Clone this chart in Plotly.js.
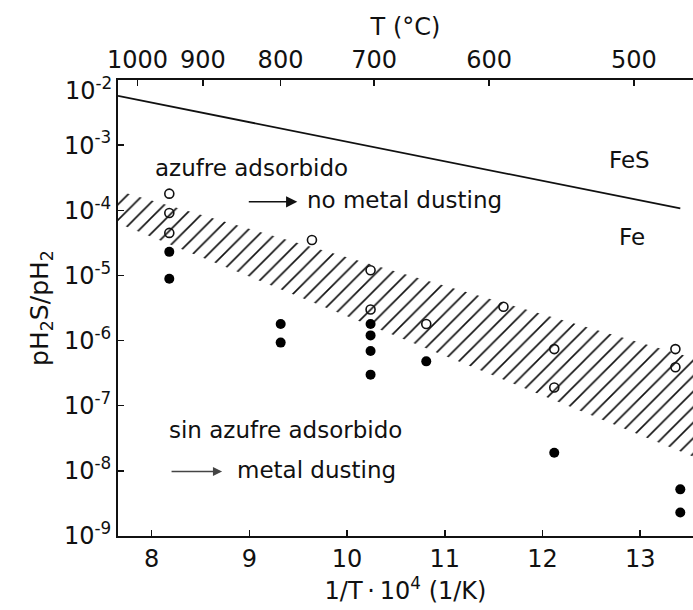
<!DOCTYPE html>
<html>
<head>
<meta charset="utf-8">
<script src="https://cdn.plot.ly/plotly-3.0.1.min.js"></script>
<style>html,body{margin:0;padding:0;background:#fff;}#chart{width:693px;height:610px;}</style>
</head>
<body>
<div id="chart"></div>
<script>
// ---- data ----
const xRange = [7.655, 13.54];
const yTickVals = [1e-9, 1e-8, 1e-7, 1e-6, 1e-5, 1e-4, 1e-3, 1e-2];
const yTickText = ['10<sup>-9</sup>','10<sup>-8</sup>','10<sup>-7</sup>','10<sup>-6</sup>','10<sup>-5</sup>','10<sup>-4</sup>','10<sup>-3</sup>','10<sup>-2</sup>'];
const xTickVals = [8, 9, 10, 11, 12, 13];
const topTempC = [1000, 900, 800, 700, 600, 500];

// FeS / Fe equilibrium line
const lineX = [7.655, 13.41];
const lineY = [5.7e-3, 1.07e-4];

// hatched transition band
const bandX = [7.655, 13.54];
const bandUpper = [2.0e-4, 5.4e-7];
const bandLower = [6.3e-5, 1.66e-8];

// open circles (adsorbed sulfur, no metal dusting)
const openX = [8.18, 8.18, 8.18, 9.64, 10.24, 10.24, 10.81, 11.6, 12.12, 12.12, 13.36, 13.36];
const openY = [1.8e-4, 9.1e-5, 4.5e-5, 3.5e-5, 1.2e-5, 3.0e-6, 1.8e-6, 3.3e-6, 7.4e-7, 1.9e-7, 7.4e-7, 3.9e-7];

// filled circles (no adsorbed sulfur, metal dusting)
const filledX = [8.18, 8.18, 9.32, 9.32, 10.24, 10.24, 10.24, 10.24, 10.81, 12.12, 13.41, 13.41];
const filledY = [2.3e-5, 8.9e-6, 1.8e-6, 9.3e-7, 1.8e-6, 1.2e-6, 6.9e-7, 3.0e-7, 4.8e-7, 1.9e-8, 5.2e-9, 2.3e-9];

// ---- chart ----
const FONT = 'DejaVu Sans, Liberation Sans, Arial, sans-serif';
const topTickVals = topTempC.map(t => 1e4 / (t + 273.15));
const topTickText = topTempC.map(t => String(t));
// the top y label (10^-2) is drawn lower than its tick, as in the reference
const lastIdx = yTickVals.length - 1;
const yTickTextAxis = yTickText.map((t, i) => i === lastIdx ? '' : t);

const traces = [
  {x: bandX, y: bandLower, mode: 'lines', line: {width: 0, color: 'rgba(0,0,0,0)'}, showlegend: false, hoverinfo: 'skip'},
  {x: bandX, y: bandUpper, mode: 'lines', line: {width: 0, color: 'rgba(0,0,0,0)'}, fill: 'tonexty',
   fillcolor: 'rgba(255,255,255,0)',
   fillpattern: {shape: '/', size: 11, solidity: 0.15, fgcolor: '#111', bgcolor: 'rgba(255,255,255,0)'},
   showlegend: false, hoverinfo: 'skip'},
  {x: lineX, y: lineY, mode: 'lines', line: {color: '#111', width: 1.8}, showlegend: false},
  {x: openX, y: openY, mode: 'markers', marker: {symbol: 'circle-open', size: 9, color: '#111', line: {width: 1.6, color: '#111'}}, showlegend: false},
  {x: filledX, y: filledY, mode: 'markers', marker: {symbol: 'circle', size: 10, color: '#000'}, showlegend: false},
  {x: [], y: [], xaxis: 'x2', yaxis: 'y', mode: 'markers', showlegend: false, hoverinfo: 'skip'}
];

function txt(text, x, ylog) {
  return {text: text, x: x, y: ylog, xref: 'x', yref: 'y', xanchor: 'left', yanchor: 'middle',
          showarrow: false, font: {family: FONT, size: 23, color: '#111'}};
}
function arrow(x, ylog, ax, color, width) {
  return {text: '', x: x, y: ylog, xref: 'x', yref: 'y', showarrow: true, ax: ax, ay: 0,
          arrowhead: 2, arrowsize: 1.4, arrowwidth: width, arrowcolor: color};
}

const layout = {
  width: 693, height: 610,
  margin: {l: 118, r: 0, t: 80, b: 74},
  paper_bgcolor: '#fff', plot_bgcolor: '#fff',
  font: {family: FONT, size: 24, color: '#111'},
  showlegend: false,
  xaxis: {
    range: xRange, tickvals: xTickVals, ticktext: xTickVals.map(String),
    ticks: 'inside', ticklen: 6, tickwidth: 1.5, tickcolor: '#111',
    showline: true, linecolor: '#111', linewidth: 2, showgrid: false, zeroline: false,
    tickfont: {family: FONT, size: 24, color: '#111'},
    title: {text: '1/T\u2009·\u200910<sup>4</sup> (1/K)', font: {family: FONT, size: 24, color: '#111'}, standoff: 10}
  },
  xaxis2: {
    overlaying: 'x', side: 'top', range: xRange, tickvals: topTickVals, ticktext: topTickText,
    ticks: 'inside', ticklen: 6, tickwidth: 1.5, tickcolor: '#111',
    showline: true, linecolor: '#111', linewidth: 2, showgrid: false, zeroline: false,
    tickfont: {family: FONT, size: 24, color: '#111'},
    title: {text: 'T (°C)', font: {family: FONT, size: 24, color: '#111'}, standoff: 4}
  },
  yaxis: {
    type: 'log', range: [-9, -2], tickvals: yTickVals, ticktext: yTickTextAxis,
    ticks: 'inside', ticklen: 6, tickwidth: 1.5, tickcolor: '#111',
    showline: true, linecolor: '#111', linewidth: 2, showgrid: false, zeroline: false,
    tickfont: {family: FONT, size: 24, color: '#111'},
    title: {text: 'pH<sub>2</sub>S/pH<sub>2</sub>', font: {family: FONT, size: 25, color: '#111'}, standoff: 8}
  },
  annotations: [
    {text: yTickText[lastIdx], x: 0, xref: 'paper', y: Math.log10(yTickVals[lastIdx]), yref: 'y',
     xanchor: 'right', yanchor: 'middle', xshift: -4, yshift: -9, showarrow: false,
     font: {family: FONT, size: 24, color: '#111'}},
    txt('azufre adsorbido', 8.013, -3.35),
    arrow(9.49, -3.87, -50, '#111', 1.6),
    txt('no metal dusting', 9.57, -3.84),
    txt('FeS', 12.66, -3.23),
    txt('Fe', 12.76, -4.41),
    txt('sin azufre adsorbido', 8.16, -7.38),
    arrow(8.72, -8.01, -52, '#444', 1.3),
    txt('metal dusting', 8.85, -7.99)
  ]
};

Plotly.newPlot('chart', traces, layout, {staticPlot: true, displayModeBar: false});
</script>
</body>
</html>
